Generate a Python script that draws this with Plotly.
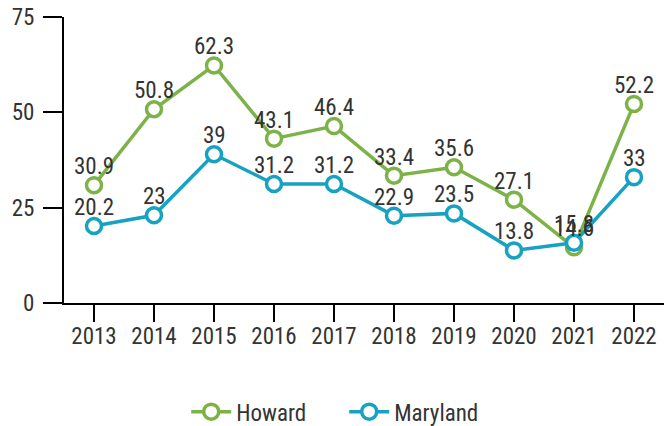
import plotly.graph_objects as go

years = ["2013", "2014", "2015", "2016", "2017", "2018", "2019", "2020", "2021", "2022"]
howard = [30.9, 50.8, 62.3, 43.1, 46.4, 33.4, 35.6, 27.1, 14.6, 52.2]
maryland = [20.2, 23, 39, 31.2, 31.2, 22.9, 23.5, 13.8, 15.8, 33]
y_ticks = [0, 25, 50, 75]

FONT = "Roboto Condensed, Liberation Sans Narrow, DejaVu Sans Condensed, Roboto, sans-serif"
TXT = "#333333"
FS = 23

fig = go.Figure()
for name, vals, col in [("Howard", howard, "#7db249"), ("Maryland", maryland, "#17a2c2")]:
    fig.add_trace(go.Scatter(
        x=years, y=vals, name=name, mode="lines+markers",
        line=dict(color=col, width=3.5),
        marker=dict(size=15, color="white", line=dict(color=col, width=3.5)),
        cliponaxis=False,
    ))
    for i, v in enumerate(vals):
        fig.add_annotation(x=i, y=v, xref="x", yref="y", text=f"{v:g}", showarrow=False,
                           xanchor="center", yanchor="bottom", yshift=3,
                           font=dict(family=FONT, size=FS, color=TXT))

fig.update_layout(
    width=671, height=426,
    margin=dict(l=64, r=7, t=17, b=123, autoexpand=False),
    plot_bgcolor="white", paper_bgcolor="white",
    font=dict(family=FONT, size=FS, color=TXT),
    showlegend=True,
    legend=dict(orientation="h", x=0.467, xanchor="center", y=-0.38, yanchor="middle",
                font=dict(family=FONT, size=FS, color=TXT), itemwidth=40,
                entrywidth=103, entrywidthmode="pixels"),
)
fig.update_xaxes(type="category", range=[-0.5, 9.5], showline=True, linecolor="black", linewidth=2,
                 ticks="outside", ticklen=17, tickwidth=2, tickcolor="black", showgrid=False,
                 automargin=False, ticklabelstandoff=-6,
                 tickfont=dict(family=FONT, size=FS, color=TXT))
fig.update_yaxes(range=[0, 75], tickvals=y_ticks, showline=True, linecolor="black", linewidth=2,
                 ticks="outside", ticklen=19, tickwidth=2, tickcolor="black", showgrid=False,
                 automargin=False, zeroline=False, ticklabelstandoff=4, ticklabeloverflow="allow",
                 tickfont=dict(family=FONT, size=FS, color=TXT))

# remove the page's default 8px body margin so the figure fills the window exactly
fig.write_html("out.html", config={"displayModeBar": False},
               post_script="document.body.style.margin='0';")
